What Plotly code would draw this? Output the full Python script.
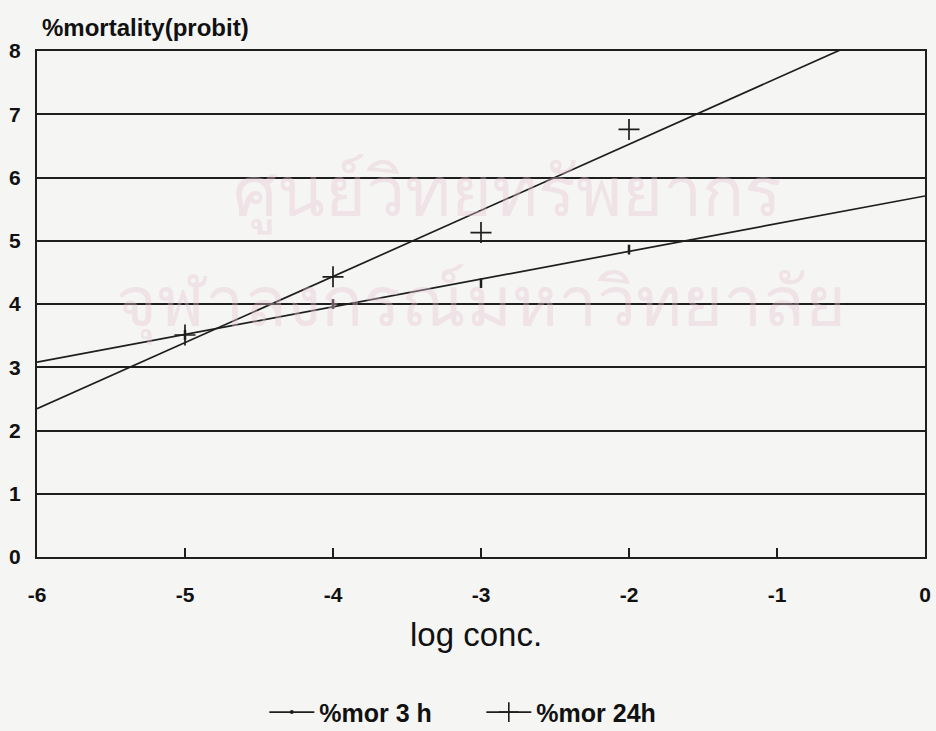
import numpy as np
import plotly.graph_objects as go

# log concentration levels tested
log_conc = [-5, -4, -3, -2]
# probit-transformed mortality
mor_3h = [3.51, 4.00, 4.33, 4.86]
mor_24h = [3.51, 4.43, 5.13, 6.76]

x_ticks = [-6, -5, -4, -3, -2, -1, 0]
x_labels = ["-6", "-5", "-4", "-3", "-2", "-1", "0"]
y_ticks = [0, 1, 2, 3, 4, 5, 6, 7, 8]

LINE = "#1e1e1e"
BG = "#f5f5f3"
FONT = "Liberation Sans"
WM = "rgba(228,196,214,0.38)"

# least-squares probit lines over the full axis range
x_fit = np.array([-6.0, 0.0])
fit_3h = np.polyval(np.polyfit(log_conc, mor_3h, 1), x_fit)
fit_24h = np.polyval(np.polyfit(log_conc, mor_24h, 1), x_fit)

fig = go.Figure()

fig.add_trace(go.Scatter(x=x_fit, y=fit_3h, mode="lines", line=dict(color=LINE, width=1.7),
                         showlegend=False, hoverinfo="skip"))
fig.add_trace(go.Scatter(x=x_fit, y=fit_24h, mode="lines", line=dict(color=LINE, width=1.7),
                         showlegend=False, hoverinfo="skip"))

fig.add_trace(go.Scatter(x=log_conc, y=mor_3h, mode="markers", showlegend=False,
                         marker=dict(symbol="line-ns", size=7, line=dict(color=LINE, width=2.5))))
fig.add_trace(go.Scatter(x=log_conc, y=mor_24h, mode="markers", showlegend=False,
                         marker=dict(symbol="cross-thin", size=15, line=dict(color=LINE, width=1.7))))

# legend entries
fig.add_trace(go.Scatter(x=[None], y=[None], mode="lines+markers", name="%mor 3 h",
                         line=dict(color=LINE, width=1.6),
                         marker=dict(symbol="circle", size=4, color=LINE)))
fig.add_trace(go.Scatter(x=[None], y=[None], mode="lines+markers", name="%mor 24h",
                         line=dict(color=LINE, width=1.6),
                         marker=dict(symbol="cross-thin", size=14, line=dict(color=LINE, width=1.6))))

fig.update_layout(
    width=936, height=731,
    margin=dict(l=37, r=11, t=51, b=174, autoexpand=False),
    paper_bgcolor=BG, plot_bgcolor=BG,
    font=dict(family=FONT, color="#111"),
    legend=dict(orientation="h", x=0.256, xanchor="left", y=-0.307, yanchor="middle",
                font=dict(family=FONT, size=25, color="#111", weight="bold"),
                bgcolor="rgba(0,0,0,0)", entrywidth=157, entrywidthmode="pixels",
                itemwidth=45, tracegroupgap=0),
    annotations=[
        dict(text="%mortality(probit)", x=0.003, xref="paper", y=1.047, yref="paper",
             xanchor="left", yanchor="middle", showarrow=False,
             font=dict(family=FONT, size=24, color="#111", weight="bold")),
        dict(text="log conc.", x=0.494, xref="paper", y=-0.1525, yref="paper",
             xanchor="center", yanchor="middle", showarrow=False,
             font=dict(family=FONT, size=33, color="#111")),
        dict(text="ศูนย์วิทยทรัพยากร", x=0.53, xref="paper", y=0.717, yref="paper",
             xanchor="center", yanchor="middle", showarrow=False,
             font=dict(size=70, color=WM)),
        dict(text="จุฬาลงกรณ์มหาวิทยาลัย", x=0.5, xref="paper", y=0.5, yref="paper",
             xanchor="center", yanchor="middle", showarrow=False,
             font=dict(size=70, color=WM)),
    ],
)

fig.update_xaxes(range=[-6, 0], tickvals=x_ticks, ticktext=x_labels,
                 ticks="inside", ticklen=9, tickwidth=1.5,
                 tickcolor=LINE, showgrid=False, zeroline=False,
                 showline=True, linecolor=LINE, linewidth=2, mirror=True,
                 ticklabelstandoff=18, automargin=False,
                 tickfont=dict(family=FONT, size=21, color="#111", weight="bold"))
fig.update_yaxes(range=[0, 8], tickvals=y_ticks, ticks="", showgrid=True,
                 gridcolor=LINE, gridwidth=2, zeroline=False,
                 showline=True, linecolor=LINE, linewidth=2, mirror=True,
                 ticklabelstandoff=10, automargin=False,
                 tickfont=dict(family=FONT, size=21, color="#111", weight="bold"))

fig.write_html("out.html")
